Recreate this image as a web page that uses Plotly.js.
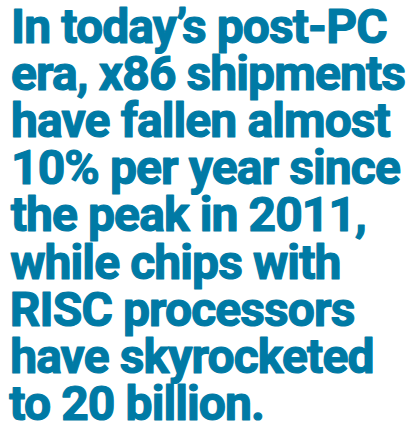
<!DOCTYPE html>
<html>
<head>
<meta charset="utf-8">
<script src="https://cdn.plot.ly/plotly-3.0.1.min.js"></script>
<style>
html,body{margin:0;padding:0;background:#fff;}
#chart{width:415px;height:432px;}
#chart .annotation-text{letter-spacing:-0.9px;stroke:#007AA5;stroke-width:1.2px;stroke-linejoin:round;}
</style>
</head>
<body>
<div id="chart"></div>
<script>
// Text content of the graphic, one entry per line
const textLines = [
  "In today’s post-PC",
  "era, x86 shipments",
  "have fallen almost",
  "10% per year since",
  "the peak in 2011,",
  "while chips with",
  "RISC processors",
  "have skyrocketed",
  "to 20 billion."
];
</script>
<script>
const H = 432, W = 415;
const fontSize = 48;
const firstBaseline = 44;
const pitch = 47.2;
const color = "#007AA5";
const fontFamily = "Roboto, 'DejaVu Sans Condensed', sans-serif";

const annotations = textLines.map((t, i) => {
  const baseline = firstBaseline + i * pitch;
  return {
    text: t,
    xref: "paper", yref: "paper",
    x: 2 / W, xanchor: "left",
    y: 1 - (baseline + 0.24 * fontSize) / H, yanchor: "bottom",
    showarrow: false,
    font: {family: fontFamily, size: fontSize, color: color, weight: 700},
    borderpad: 0
  };
});

Plotly.newPlot("chart", [], {
  width: W, height: H,
  margin: {l: 0, r: 0, t: 0, b: 0},
  paper_bgcolor: "#ffffff", plot_bgcolor: "#ffffff",
  xaxis: {visible: false, range: [0, 1], fixedrange: true},
  yaxis: {visible: false, range: [0, 1], fixedrange: true},
  showlegend: false,
  annotations: annotations
}, {staticPlot: true, displayModeBar: false});
</script>
</body>
</html>
